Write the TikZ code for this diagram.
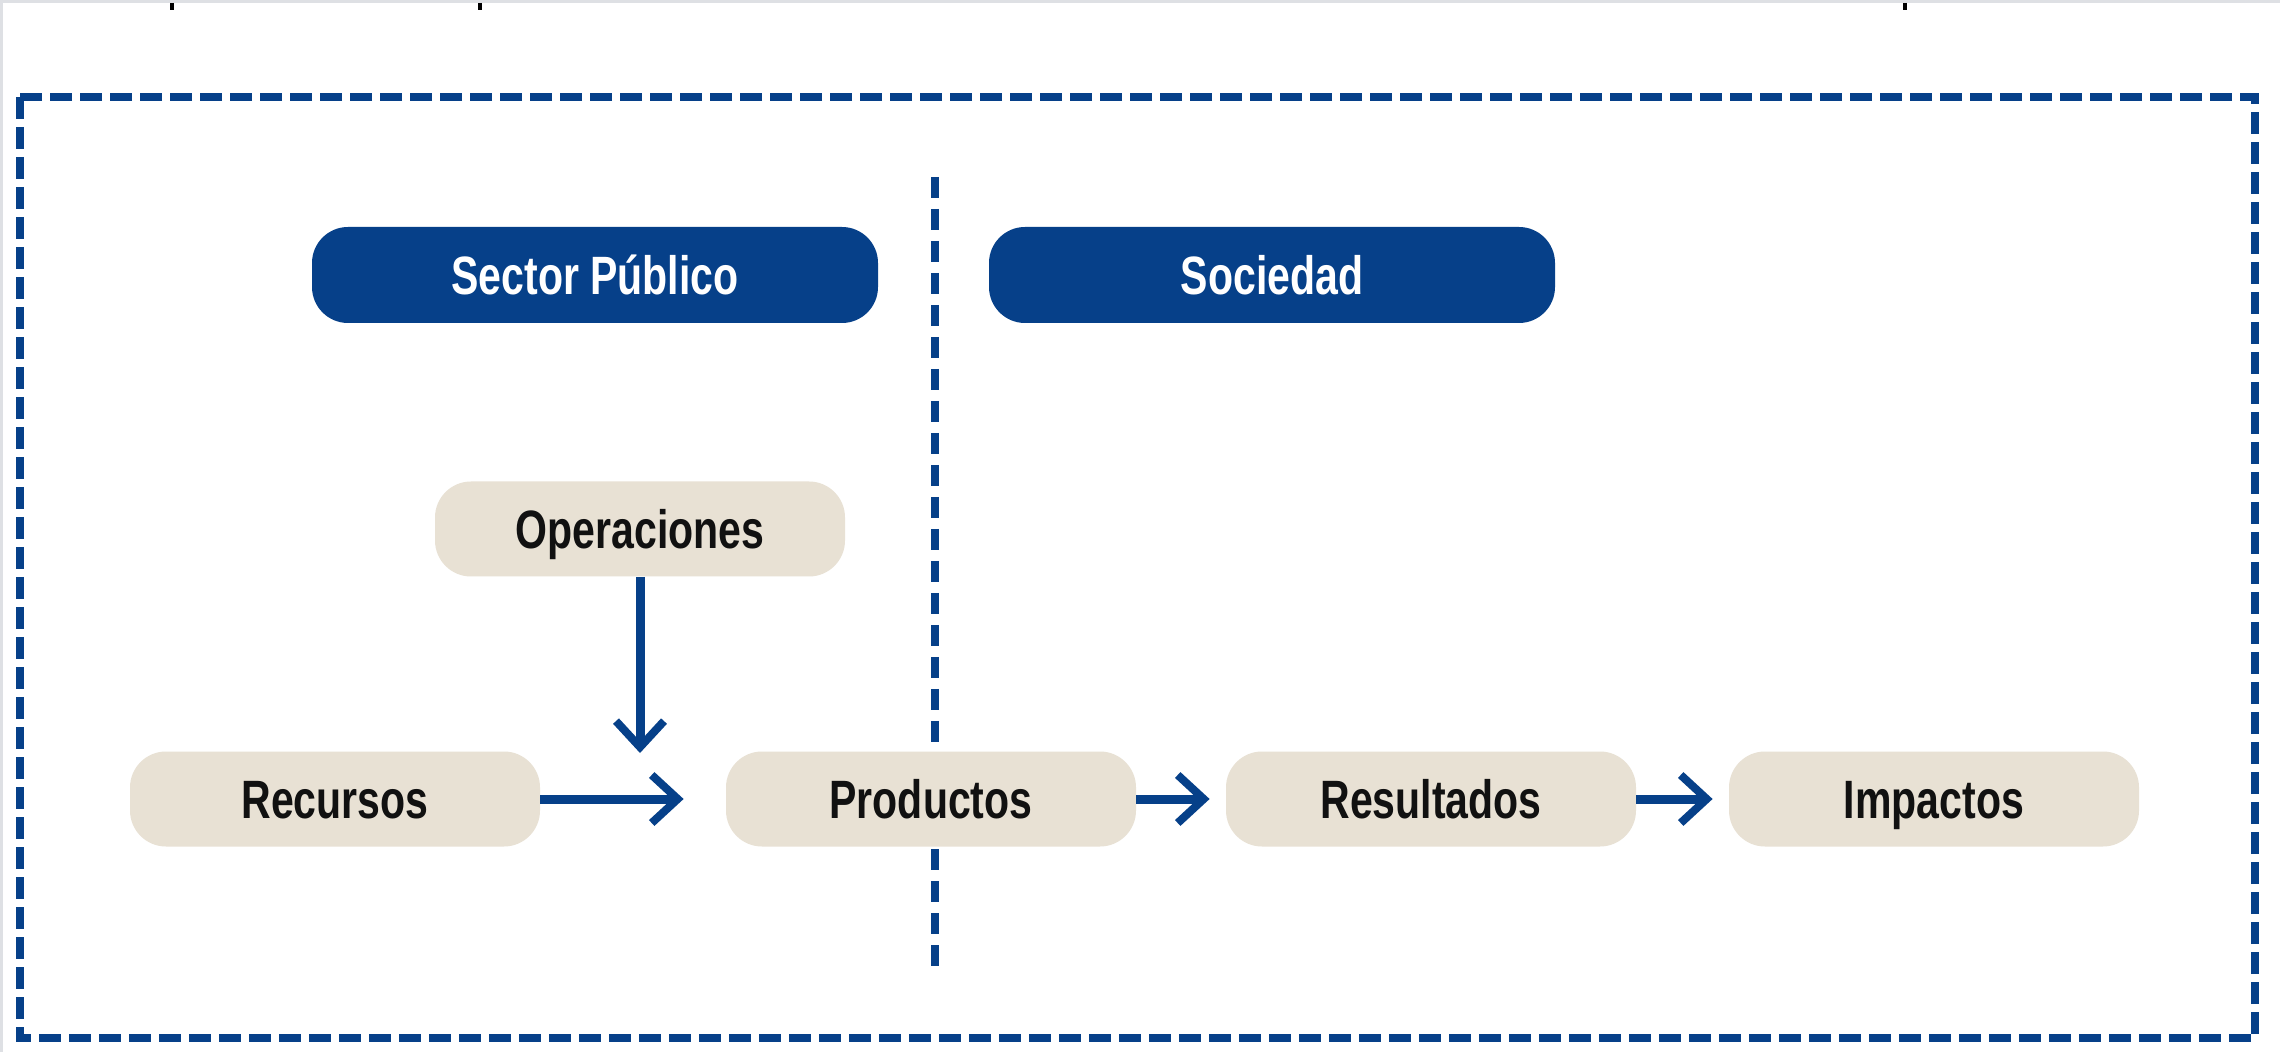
\documentclass[tikz,border=0pt]{standalone}
\usepackage{fontspec}
\newfontfamily\condb{Liberation Sans Bold}[FakeStretch=0.76]
\usetikzlibrary{arrows.meta}
\definecolor{navy}{RGB}{6,64,137}
\definecolor{beige}{RGB}{232,225,212}
\definecolor{edgegray}{RGB}{222,224,228}
\definecolor{ink}{RGB}{17,17,17}
\begin{document}
\begin{tikzpicture}[x=0.5pt,y=-0.5pt,
  headbox/.style={fill=navy, text=white, rounded corners=18pt, minimum width=283pt,
    minimum height=48pt, inner sep=0pt, text height=19.3pt, text depth=0pt,
    font=\condb\fontsize{27}{31}\selectfont},
  stagebox/.style={fill=beige, text=ink, rounded corners=18pt, minimum width=205pt,
    minimum height=47.5pt, inner sep=0pt, text height=19.3pt, text depth=0pt,
    font=\condb\fontsize{27}{31}\selectfont},
  flow/.style={draw=navy, line width=4.5pt,
    -{Straight Barb[length=13pt,width=24pt,line width=4pt]}},
  frameline/.style={draw=navy, line width=3.8pt, dash pattern=on 11pt off 4pt},
  divider/.style={draw=navy, line width=4pt, dash pattern=on 10.5pt off 5.5pt},
  tickmark/.style={draw=black, line width=2pt}]
\useasboundingbox (0,0) rectangle (2280,1052);
\fill[edgegray] (0,0) rectangle (2280,1052);
\fill[white] (3,3) rectangle (2280,1052);
% small marks at the top edge
\coordinate (t1a) at (172,3); \coordinate (t1b) at (172,10);
\coordinate (t2a) at (480,3); \coordinate (t2b) at (480,10);
\coordinate (t3a) at (1905,3); \coordinate (t3b) at (1905,10);
\draw[tickmark] (t1a) -- (t1b);
\draw[tickmark] (t2a) -- (t2b);
\draw[tickmark] (t3a) -- (t3b);
% outer dashed frame
\draw[frameline] (20,97) rectangle (2255,1038);
% dividing line
\coordinate (divtop) at (935,177);
\coordinate (divbot) at (935,968);
\draw[divider] (divtop) -- (divbot);
% headers
\node[headbox] (sector) at (595,275) {Sector Público};
\node[headbox] (sociedad) at (1272,275) {Sociedad};
% stages
\node[stagebox] (oper) at (640,529) {Operaciones};
\node[stagebox] (recursos) at (335,799) {Recursos};
\node[stagebox] (productos) at (931,799) {Productos};
\node[stagebox] (resultados) at (1431,799) {Resultados};
\node[stagebox] (impactos) at (1934,799) {Impactos};
% connectors
\coordinate (opend) at (640,753);
\draw[flow] (oper.south) -- (opend);
\draw[flow, shorten >=21pt] (recursos.east) -- (productos.west);
\draw[flow, shorten >=8pt] (productos.east) -- (resultados.west);
\draw[flow, shorten >=8pt] (resultados.east) -- (impactos.west);
\end{tikzpicture}
\end{document}
